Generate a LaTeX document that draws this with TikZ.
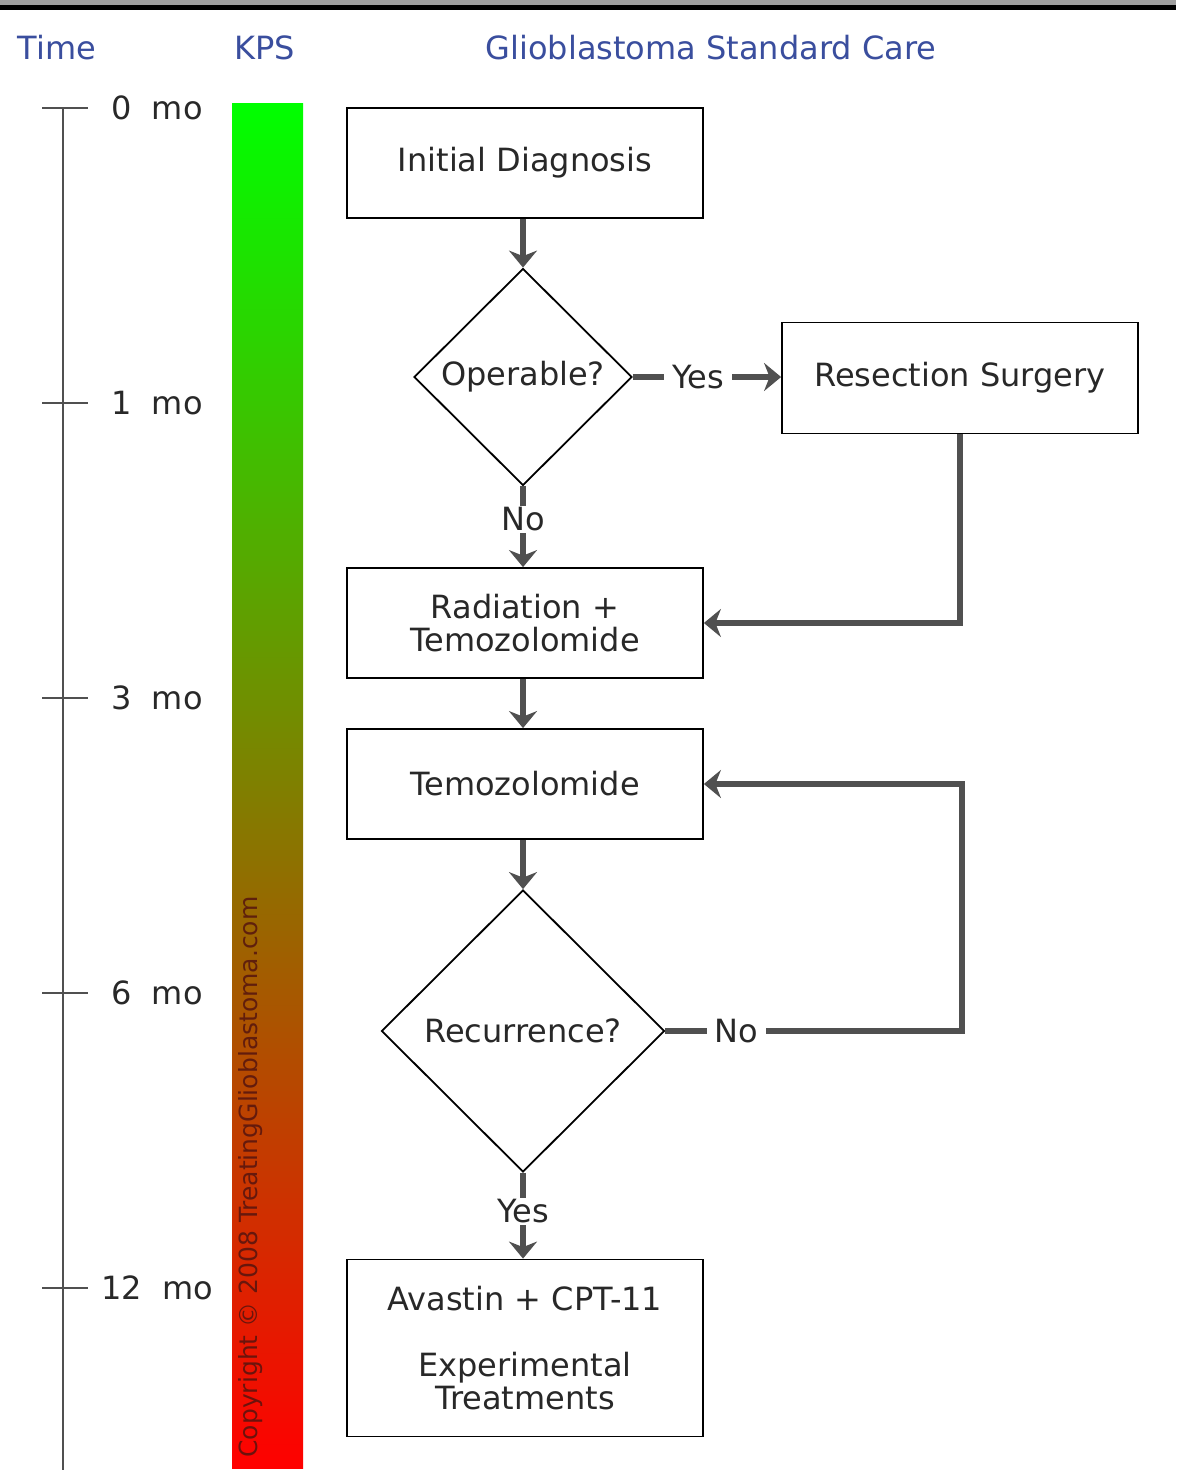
\documentclass[tikz,border=0pt]{standalone}
\usepackage{fontspec}
\setmainfont{DejaVu Sans}
\usepackage{tikz}
\usetikzlibrary{arrows.meta,shapes.geometric}

\definecolor{headblue}{RGB}{58,78,158}
\definecolor{arrowgray}{RGB}{80,80,80}
\definecolor{textgray}{RGB}{40,40,40}
\definecolor{copyred}{RGB}{85,20,15}

\begin{document}
\begin{tikzpicture}[x=1pt,y=-1pt,
head/.style={font=\fontsize{32}{33}\selectfont,text=headblue},
box/.style={draw=black,line width=1.8pt,minimum width=356pt,minimum height=110pt,align=center,font=\fontsize{32}{33}\selectfont,text=textgray},
decision/.style={diamond,draw=black,line width=1.8pt,inner sep=0pt,font=\fontsize{32}{33}\selectfont,text=textgray},
month/.style={font=\fontsize{32}{33}\selectfont,text=textgray},
tick/.style={draw=arrowgray,line width=2pt},
arrow/.style={-{Stealth[length=17pt,width=28pt]},line width=6pt,draw=arrowgray},
arrowlabel/.style={fill=white,inner xsep=8pt,inner ysep=2pt,font=\fontsize{32}{33}\selectfont,text=textgray} ]

\useasboundingbox (0,0) rectangle (1176,1480);
\fill[white] (0,0) rectangle (1176,1480);
\fill[gray!75] (0,0) rectangle (1176,5);
\fill[black] (0,5) rectangle (1176,10);

% headings
\node[head] (htime) at (57,48) {Time};
\node[head] (hkps) at (265,48) {KPS};
\node[head] (hcare) at (711,48) {Glioblastoma Standard Care};

% time axis
\draw[tick] (63,108) -- (63,1470);
\draw[tick] (42,108) -- (88,108);
\draw[tick] (42,403) -- (88,403);
\draw[tick] (42,698) -- (88,698);
\draw[tick] (42,993) -- (88,993);
\draw[tick] (42,1288) -- (88,1288);
\node[month] (m0) at (157,108) {0\ \ mo};
\node[month] (m1) at (157,403) {1\ \ mo};
\node[month] (m3) at (157,698) {3\ \ mo};
\node[month] (m6) at (157,993) {6\ \ mo};
\node[month] (m12) at (157,1288) {12\ \ mo};

% KPS bar
\shade[top color={rgb,255:red,0;green,255;blue,0},bottom color={rgb,255:red,255;green,0;blue,0}] (232,103) rectangle (303,1468);
\node[rotate=90,text=copyred,opacity=0.85,font=\fontsize{25}{26}\selectfont] (copy) at (251,1177) {Copyright © 2008 TreatingGlioblastoma.com};

% flow chart
\node[box] (diag) at (525,163) {Initial Diagnosis};
\node[decision,minimum width=218pt,minimum height=217pt] (oper) at (523,377) {Operable?};
\node[box,minimum height=111pt] (resect) at (960,378) {Resection Surgery};
\node[box] (radtem) at (525,623) {Radiation +\\Temozolomide};
\node[box] (temo) at (525,784) {Temozolomide};
\node[decision,minimum width=283pt,minimum height=282pt] (recur) at (523,1031) {Recurrence?};
\node[box,minimum height=177pt] (avastin) at (525,1348) {Avastin + CPT-11\\[33pt]Experimental\\Treatments};
\coordinate (turn) at (962,1031);

\draw[arrow] (diag.south -| oper.north) -- (oper.north);
\draw[arrow] (oper.east) -- node[arrowlabel,pos=0.44] {Yes} (resect.west |- oper.east);
\draw[arrow] (oper.south) -- node[arrowlabel,pos=0.41] {No} (oper.south |- radtem.north);
\draw[arrow] (resect.south) |- (radtem.east);
\draw[arrow] (radtem.south -| oper.south) -- (temo.north -| oper.south);
\draw[arrow] (temo.south -| recur.north) -- (recur.north);
\draw[arrow] (recur.east) -- node[arrowlabel,pos=0.24] {No} (turn) |- (temo.east);
\draw[arrow] (recur.south) -- node[arrowlabel,pos=0.45] {Yes} (recur.south |- avastin.north);

\end{tikzpicture}
\end{document}
